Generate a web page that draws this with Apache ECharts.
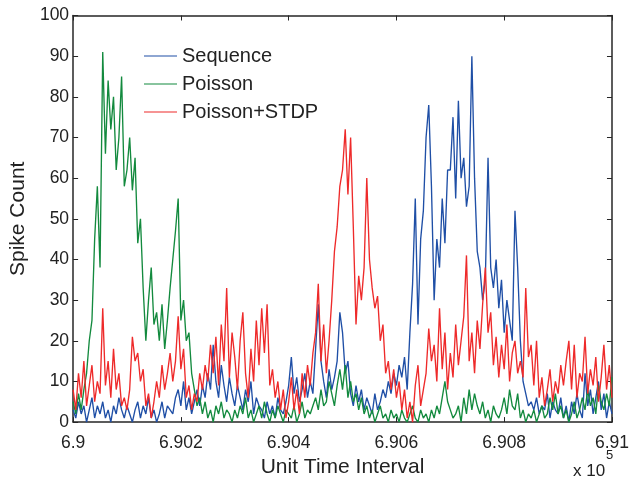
<!DOCTYPE html>
<html>
<head>
<meta charset="utf-8">
<script src="https://cdn.jsdelivr.net/npm/echarts@6/dist/echarts.min.js"></script>
<style>
html,body{margin:0;padding:0;background:#fff;}
#chart{width:632px;height:483px;}
</style>
</head>
<body>
<div id="chart"></div>
<script>
// sampling grid of the time axis
const tStart = 690000;
const tStep = 5;

const seriesNames = ['Sequence', 'Poisson', 'Poisson+STDP'];

const sequence = [
  3, 1, 5, 2, 4, 0, 3, 6, 1, 4,
  2, 5, 1, 3, 0, 4, 2, 6, 3, 1,
  4, 2, 0, 3, 5, 1, 4, 2, 6, 1,
  3, 0, 2, 5, 1, 4, 3, 2, 6, 8,
  4, 10, 3, 6, 2, 5, 8, 4, 9, 6,
  12, 8, 19, 10, 6, 14, 9, 5, 11, 7,
  4, 9, 6, 3, 8, 5, 10, 2, 6, 4,
  3, 1, 5, 2, 4, 1, 6, 3, 2, 5,
  9, 16, 7, 11, 5, 8, 12, 6, 10, 7,
  18, 29, 15, 10, 6, 13, 8, 11, 15, 27,
  22, 12, 15, 7, 4, 9, 5, 8, 3, 6,
  4, 2, 7, 3, 5, 8, 6, 10, 7, 12,
  9, 14, 11, 16, 8, 22, 34, 55, 24, 45,
  52, 70, 78, 58, 30, 45, 38, 55, 44, 62,
  62, 75, 55, 79, 60, 65, 53, 58, 90, 60,
  42, 38, 30, 35, 65, 38, 33, 40, 28, 35,
  22, 30, 25, 20, 52, 38, 20, 10, 7, 4,
  5, 3, 6, 2, 4, 3, 7, 1, 5, 3,
  2, 6, 1, 4, 0, 5, 2, 7, 3, 1,
  12, 4, 8, 2, 6, 10, 3, 7, 1, 5,
  2
];

const poisson = [
  5, 2, 7, 3, 8, 12, 20, 25, 45, 58,
  38, 91, 66, 84, 72, 80, 62, 70, 85, 58,
  62, 70, 57, 65, 44, 50, 33, 20, 30, 38,
  24, 27, 20, 29, 18, 25, 33, 40, 47, 55,
  25, 30, 20, 22, 12, 8, 4, 6, 2, 5,
  1, 3, 0, 4, 2, 5, 1, 3, 2, 0,
  3, 1, 4, 2, 6, 1, 3, 0, 2, 4,
  1, 5, 2, 0, 3, 1, 4, 2, 0, 3,
  2, 1, 4, 0, 2, 5, 1, 3, 2, 4,
  6, 3, 8, 4, 5, 10, 7, 4, 9, 13,
  8, 14, 6, 10, 5, 7, 3, 6, 2, 4,
  1, 3, 0, 2, 4, 1, 2, 0, 3, 1,
  2, 0, 3, 1, 0, 2, 4, 1, 0, 3,
  1, 2, 0, 3, 1, 4, 2, 6, 10, 5,
  3, 1, 2, 4, 0, 6, 2, 8, 3, 7,
  4, 2, 5, 1, 3, 0, 4, 2, 1, 3,
  6, 2, 8, 4, 3, 7, 1, 3, 0, 2,
  1, 3, 0, 2, 4, 1, 2, 6, 3, 7,
  2, 4, 1, 3, 0, 2, 5, 1, 3, 6,
  3, 8, 4, 6, 2, 9, 5, 3, 7, 4,
  11
];

const poissonStdp = [
  8, 3, 12, 6, 15, 4, 9, 14, 5, 10,
  7, 28, 9, 15, 6, 18, 8, 12, 4, 6,
  3, 8, 21, 15, 17, 10, 13, 4, 7, 1,
  5, 10, 6, 14, 8, 12, 17, 10, 15, 26,
  13, 18, 6, 9, 3, 7, 5, 12, 8, 14,
  10, 19, 12, 21, 9, 24, 15, 33, 11, 22,
  16, 8, 20, 27, 12, 6, 18, 10, 25, 14,
  28, 17, 29, 9, 13, 6, 10, 3, 8, 1,
  5, 11, 3, 8, 2, 12, 6, 14, 9, 17,
  22, 34, 15, 24, 12, 20, 30, 42, 48, 58,
  62, 72, 56, 70, 48, 24, 36, 30, 38, 60,
  40, 33, 28, 31, 20, 24, 12, 15, 8, 13,
  6, 10, 3, 8, 1, 5, 0, 9, 14, 4,
  8, 12, 23, 15, 19, 10, 28, 13, 22, 8,
  17, 11, 24, 14, 20, 26, 41, 15, 22, 12,
  25, 18, 29, 38, 22, 27, 14, 21, 11, 19,
  13, 24, 10, 17, 20, 12, 15, 11, 33, 16,
  19, 9, 20, 6, 11, 4, 8, 13, 5, 10,
  7, 14, 9, 15, 20, 8, 19, 6, 12, 10,
  21, 7, 13, 9, 16, 5, 11, 19, 8, 14,
  6
];

const xTickValues = [690000, 690200, 690400, 690600, 690800, 691000];
const xTickLabels = ['6.9', '6.902', '6.904', '6.906', '6.908', '6.91'];

function toPairs(arr) {
  return arr.map((v, i) => [tStart + i * tStep, v]);
}

const chart = echarts.init(document.getElementById('chart'), null, {renderer: 'canvas'});
const FONT = 'Liberation Sans, Arial, Helvetica, sans-serif';
const AX = '#262626';

const xLabelFmt = function (v) {
  const k = xTickValues.indexOf(v);
  return k >= 0 ? xTickLabels[k] : '';
};

chart.setOption({
  animation: false,
  backgroundColor: '#ffffff',
  grid: {left: 69, right: 19, top: 15.5, bottom: 59.5, containLabel: false},
  legend: {
    data: seriesNames,
    orient: 'vertical',
    left: 139,
    top: 41,
    itemWidth: 33,
    itemHeight: 14,
    itemGap: 8,
    icon: 'path://M0,6 L33,6 L33,7.2 L0,7.2 Z',
    textStyle: {fontFamily: FONT, fontSize: 20, color: '#222', lineHeight: 20, padding: [0, 0, 0, 0]}
  },
  xAxis: [{
    type: 'value',
    min: 690000,
    max: 691000,
    interval: 200,
    name: 'Unit Time Interval',
    nameLocation: 'middle',
    nameGap: 33,
    nameTextStyle: {fontFamily: FONT, fontSize: 21, color: '#222'},
    axisLine: {show: true, onZero: false, lineStyle: {color: AX, width: 1.5}},
    axisTick: {show: true, inside: true, length: 5, lineStyle: {color: AX}},
    axisLabel: {formatter: xLabelFmt, fontFamily: FONT, fontSize: 17.5, color: '#222', margin: 12},
    splitLine: {show: false}
  }, {
    type: 'value',
    position: 'top',
    min: 690000,
    max: 691000,
    interval: 200,
    axisLine: {show: true, onZero: false, lineStyle: {color: AX, width: 1.5}},
    axisTick: {show: true, inside: true, length: 5, lineStyle: {color: AX}},
    axisLabel: {show: false},
    splitLine: {show: false}
  }],
  yAxis: [{
    type: 'value',
    min: 0,
    max: 100,
    interval: 10,
    name: 'Spike Count',
    nameLocation: 'middle',
    nameGap: 39,
    nameTextStyle: {fontFamily: FONT, fontSize: 21, color: '#222'},
    axisLine: {show: true, onZero: false, lineStyle: {color: AX, width: 1.5}},
    axisTick: {show: true, inside: true, length: 5, lineStyle: {color: AX}},
    axisLabel: {fontFamily: FONT, fontSize: 17.5, color: '#222', margin: 4},
    splitLine: {show: false}
  }, {
    type: 'value',
    position: 'right',
    min: 0,
    max: 100,
    interval: 10,
    axisLine: {show: true, onZero: false, lineStyle: {color: AX, width: 1.5}},
    axisTick: {show: true, inside: true, length: 5, lineStyle: {color: AX}},
    axisLabel: {show: false},
    splitLine: {show: false}
  }],
  series: [
    {name: seriesNames[0], type: 'line', data: toPairs(sequence), symbol: 'none',
     lineStyle: {color: '#1f4fa6', width: 1.35}, itemStyle: {color: '#1f4fa6'}},
    {name: seriesNames[1], type: 'line', data: toPairs(poisson), symbol: 'none',
     lineStyle: {color: '#138a3e', width: 1.35}, itemStyle: {color: '#138a3e'}},
    {name: seriesNames[2], type: 'line', data: toPairs(poissonStdp), symbol: 'none',
     lineStyle: {color: '#ee2a2a', width: 1.35}, itemStyle: {color: '#ee2a2a'}}
  ],
  graphic: [
    {type: 'text', left: 573, top: 463, style: {text: 'x 10', font: '17px ' + FONT, fill: '#222'}},
    {type: 'text', left: 606, top: 449, style: {text: '5', font: '13px ' + FONT, fill: '#222'}}
  ]
});
</script>
</body>
</html>
